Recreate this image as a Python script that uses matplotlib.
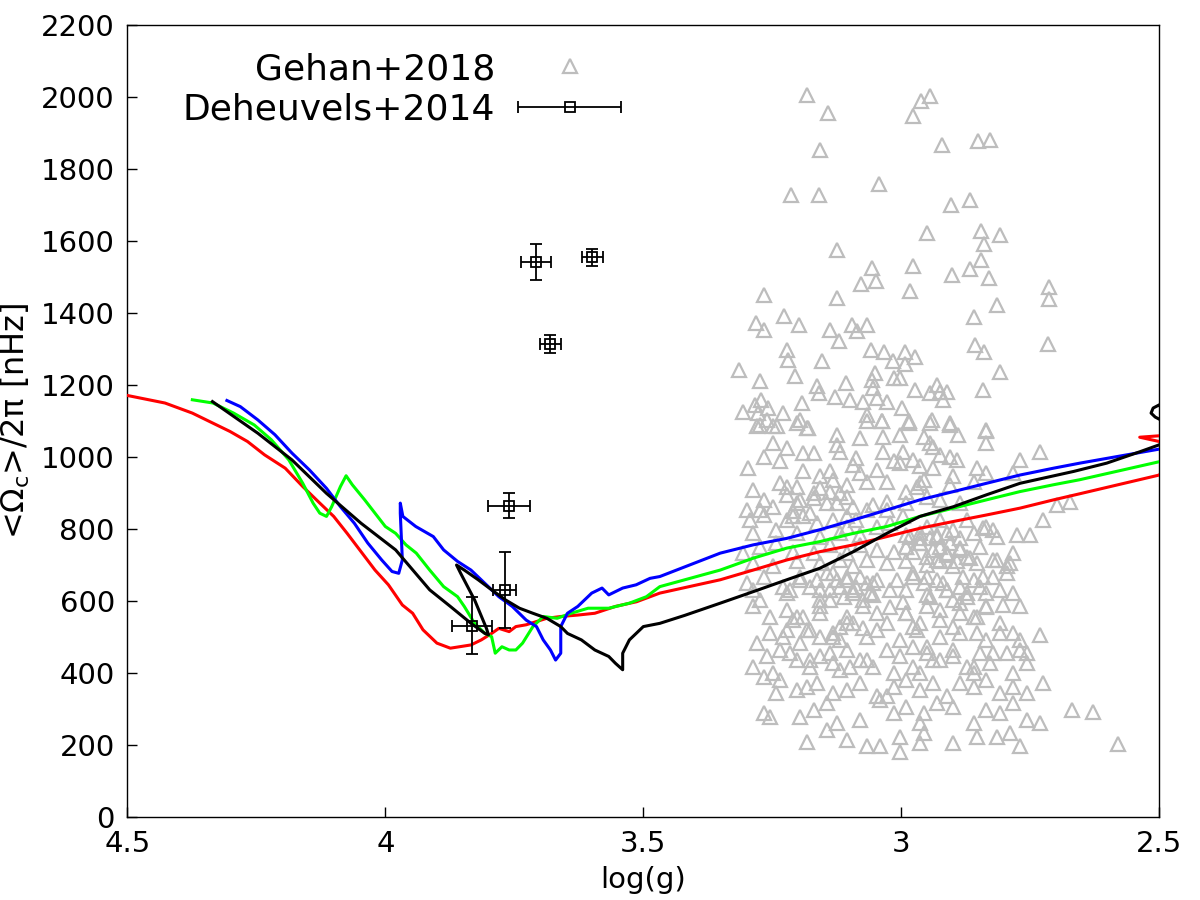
import numpy as np
import matplotlib
matplotlib.use("Agg")
import matplotlib.pyplot as plt
from matplotlib.legend_handler import HandlerErrorbar

# ---- model tracks: (log g, <Omega_c>/2pi [nHz]) ----
red_logg = [4.50, 4.427, 4.374, 4.334, 4.301, 4.267, 4.234, 4.194, 4.160, 4.127,
            4.100, 4.074, 4.047, 4.020, 3.994, 3.967, 3.947, 3.927, 3.900, 3.874,
            3.834, 3.814, 3.794, 3.780, 3.760, 3.747, 3.727, 3.687, 3.660, 3.627,
            3.594, 3.554, 3.513, 3.468, 3.351, 3.287, 3.222, 3.158, 3.093, 3.028,
            2.964, 2.899, 2.835, 2.770, 2.705, 2.654, 2.500, 2.470, 2.500, 2.538,
            2.500, 2.460]
red_om = [1171, 1150, 1122, 1094, 1071, 1043, 1006, 969, 918, 872,
          835, 788, 737, 686, 645, 589, 566, 520, 483, 469,
          478, 492, 510, 524, 515, 529, 534, 552, 557, 561,
          566, 585, 598, 622, 659, 686, 714, 737, 756, 779,
          802, 821, 839, 858, 881, 898, 950, 1010, 1043, 1055,
          1059, 1070]

green_logg = [4.374, 4.334, 4.294, 4.254, 4.221, 4.187, 4.160, 4.140, 4.127, 4.114,
              4.104, 4.087, 4.076, 4.064, 4.040, 4.020, 4.000, 3.980, 3.960, 3.940,
              3.914, 3.887, 3.860, 3.847, 3.827, 3.807, 3.794, 3.787, 3.774, 3.760,
              3.747, 3.734, 3.714, 3.694, 3.667, 3.640, 3.607, 3.567, 3.527, 3.494,
              3.468, 3.351, 3.287, 3.222, 3.158, 3.093, 3.028, 2.964, 2.899, 2.835,
              2.770, 2.705, 2.654, 2.500]
green_om = [1159, 1150, 1122, 1089, 1048, 992, 927, 872, 844, 835,
            862, 918, 948, 923, 881, 844, 807, 788, 756, 733,
            686, 640, 612, 585, 538, 510, 501, 455, 473, 464,
            464, 483, 529, 557, 552, 566, 580, 580, 594, 612,
            640, 686, 719, 747, 765, 788, 807, 835, 858, 881,
            904, 923, 937, 987]

blue_logg = [4.307, 4.281, 4.247, 4.214, 4.181, 4.147, 4.114, 4.087, 4.060, 4.034,
             4.007, 3.987, 3.974, 3.967, 3.971, 3.971, 3.966, 3.941, 3.907, 3.887,
             3.860, 3.834, 3.807, 3.780, 3.754, 3.727, 3.707, 3.694, 3.680, 3.670,
             3.660, 3.660, 3.647, 3.627, 3.600, 3.580, 3.567, 3.540, 3.514, 3.487,
             3.468, 3.351, 3.287, 3.222, 3.158, 3.093, 3.028, 2.964, 2.899, 2.835,
             2.770, 2.705, 2.654, 2.500]
blue_om = [1157, 1140, 1103, 1062, 1011, 964, 913, 862, 816, 761,
           714, 682, 677, 714, 844, 872, 835, 807, 779, 742,
           710, 686, 649, 612, 585, 547, 529, 492, 464, 436,
           455, 529, 566, 585, 622, 636, 617, 636, 645, 663,
           668, 733, 756, 774, 798, 825, 853, 881, 904, 927,
           950, 969, 983, 1022]

black_logg = [4.335, 4.247, 4.181, 4.114, 4.047, 3.980, 3.914, 3.874, 3.834, 3.807,
              3.800, 3.804, 3.827, 3.854, 3.862, 3.847, 3.820, 3.794, 3.767, 3.740,
              3.714, 3.687, 3.660, 3.647, 3.620, 3.594, 3.567, 3.554, 3.540, 3.540,
              3.527, 3.500, 3.468, 3.420, 3.351, 3.287, 3.222, 3.158, 3.093, 3.028,
              2.964, 2.931, 2.899, 2.835, 2.770, 2.666, 2.602, 2.537, 2.500, 2.470,
              2.500, 2.512, 2.516, 2.508, 2.500, 2.470]
black_om = [1154, 1066, 992, 899, 816, 742, 631, 585, 538, 510,
            506, 524, 603, 677, 700, 686, 659, 631, 603, 580,
            566, 552, 529, 510, 492, 464, 446, 427, 409, 455,
            492, 529, 538, 560, 594, 626, 659, 691, 737, 788,
            835, 849, 862, 895, 927, 960, 983, 1015, 1034, 1060,
            1145, 1136, 1122, 1111, 1105, 1095]

# ---- Deheuvels+2014 ----
deh_logg = [3.708, 3.599, 3.680, 3.760, 3.769, 3.832]
deh_om = [1542, 1555, 1313, 865, 631, 532]
deh_logg_err = [0.030, 0.020, 0.021, 0.041, 0.022, 0.039]
deh_om_err = [50, 24, 25, 35, 106, 78]

# ---- Gehan+2018 (log g, omega) by band ----
gehan_top = [(3.183, 2006), (3.143, 1955), (3.158, 1852), (3.213, 1727), (3.160, 1727),
             (3.044, 1759), (2.977, 1948), (2.962, 1988), (2.944, 2002), (2.922, 1868),
             (2.852, 1877), (2.828, 1881), (2.904, 1701), (2.867, 1715), (2.951, 1622),
             (2.846, 1627), (2.809, 1617), (2.840, 1592), (3.125, 1576), (3.056, 1525),
             (2.977, 1531), (2.846, 1548), (2.867, 1522), (2.831, 1497), (2.901, 1506),
             (3.079, 1481), (3.050, 1490), (2.983, 1460), (3.125, 1441), (3.267, 1451),
             (2.713, 1472), (2.713, 1439), (2.814, 1423), (2.860, 1389), (3.227, 1393),
             (3.282, 1372), (3.198, 1367), (3.267, 1352), (3.139, 1352), (3.120, 1321),
             (3.096, 1367), (3.086, 1349), (3.067, 1367), (2.715, 1314), (2.858, 1310),
             (2.840, 1293)]
gehan_upper = [(3.221, 1298), (3.219, 1270), (3.154, 1268), (3.059, 1298), (3.033, 1293),
               (2.992, 1293), (2.974, 1277), (3.017, 1268), (2.992, 1259), (3.314, 1242),
               (2.809, 1235), (3.273, 1210), (3.206, 1225), (3.108, 1205), (3.163, 1198),
               (3.160, 1177), (3.057, 1214), (3.051, 1233), (3.054, 1191), (3.015, 1219),
               (3.003, 1219), (2.974, 1187), (2.931, 1201), (2.925, 1182), (2.912, 1182),
               (2.841, 1187), (2.944, 1177), (2.919, 1159), (3.128, 1168), (3.099, 1159),
               (3.074, 1154), (3.048, 1164), (3.028, 1154), (2.999, 1136), (3.193, 1150),
               (3.271, 1159), (3.284, 1145), (3.306, 1126), (3.258, 1136), (3.277, 1122),
               (3.229, 1122), (3.261, 1103), (3.241, 1085), (3.280, 1085), (3.196, 1103),
               (3.180, 1080), (3.067, 1117), (3.038, 1101), (2.986, 1099), (2.941, 1103),
               (2.906, 1094), (2.835, 1075)]
gehan_1000 = [(3.274, 1089), (3.248, 1085), (3.203, 1094), (3.183, 1080), (3.067, 1099),
              (3.038, 1099), (2.986, 1094), (2.944, 1094), (2.906, 1089), (2.835, 1071),
              (3.125, 1062), (3.080, 1052), (3.035, 1057), (3.003, 1062), (2.957, 1057),
              (2.944, 1038), (2.890, 1062), (3.267, 1001), (3.248, 1038), (3.222, 1025),
              (3.190, 1011), (3.170, 1011), (3.125, 1034), (3.119, 1015), (3.087, 997),
              (3.035, 1015), (2.996, 1015), (2.977, 992), (2.938, 1029), (2.925, 1006),
              (2.906, 1001), (2.893, 992), (2.835, 1038), (2.770, 992), (2.731, 1015),
              (3.235, 988)]
gehan_900 = [(3.297, 969), (3.190, 960), (3.158, 946), (3.138, 960), (3.093, 978),
             (3.080, 955), (3.048, 964), (3.015, 988), (3.003, 983), (2.964, 974),
             (2.938, 969), (2.899, 946), (2.854, 969), (2.835, 955), (2.783, 955),
             (3.235, 927), (3.203, 918), (3.132, 937), (3.106, 923), (3.067, 932),
             (3.028, 932), (2.964, 927), (2.957, 937), (2.906, 923), (2.860, 932),
             (3.287, 909), (3.267, 881), (3.222, 895), (3.203, 872), (3.170, 886),
             (3.158, 913), (3.138, 904), (3.125, 872), (3.106, 890), (3.093, 862),
             (3.054, 867), (3.028, 876), (2.990, 904), (2.970, 918), (2.951, 890),
             (2.925, 881), (2.886, 872), (3.300, 853), (3.274, 853), (3.248, 862),
             (3.209, 849), (3.067, 853), (3.028, 853), (2.990, 872)]
gehan_800 = [(3.293, 825), (3.267, 839), (3.222, 825), (3.190, 835), (3.164, 816),
             (3.132, 825), (3.106, 807), (3.087, 825), (3.048, 807), (3.022, 816),
             (2.996, 835), (2.951, 807), (2.925, 825), (2.899, 798), (2.873, 825),
             (2.841, 802), (2.822, 798), (2.776, 784), (2.751, 784), (2.725, 825),
             (2.699, 867), (2.673, 876), (3.287, 788), (3.242, 798), (3.203, 788),
             (3.158, 779), (3.119, 788), (3.080, 784), (2.990, 784), (2.964, 774),
             (2.931, 779), (2.912, 788), (2.886, 774), (2.860, 788)]
gehan_700 = [(3.306, 733), (3.274, 751), (3.242, 761), (3.209, 737), (3.170, 733),
             (3.138, 756), (3.106, 733), (3.080, 756), (3.048, 742), (3.015, 737),
             (2.990, 751), (2.964, 761), (2.938, 742), (2.912, 733), (2.886, 747),
             (2.867, 719), (2.815, 714), (2.789, 705), (3.287, 705), (3.248, 696),
             (3.203, 710), (3.158, 705), (3.119, 714), (3.093, 696), (3.067, 714),
             (3.028, 705), (2.990, 710), (2.951, 700), (2.925, 710), (2.899, 696),
             (2.854, 705)]
gehan_600 = [(3.300, 649), (3.267, 668), (3.229, 640), (3.196, 668), (3.164, 659),
             (3.132, 677), (3.106, 659), (3.080, 668), (3.054, 649), (3.009, 659),
             (2.977, 677), (2.951, 668), (2.919, 649), (2.880, 668), (2.848, 640),
             (2.822, 668), (2.796, 677), (2.809, 631), (2.783, 622), (3.287, 631),
             (3.222, 622), (3.158, 631), (3.119, 640), (3.093, 631), (3.061, 622),
             (3.022, 631), (2.990, 631), (2.951, 617), (2.912, 631), (2.873, 622),
             (2.835, 622), (3.287, 585), (3.255, 557), (3.222, 575), (3.190, 557),
             (3.158, 585), (3.138, 603), (3.106, 557), (3.074, 585), (3.048, 566),
             (2.996, 598), (2.990, 566), (2.951, 585), (2.925, 575), (2.886, 594),
             (2.860, 557), (2.835, 585), (2.802, 589), (2.770, 585), (3.274, 603),
             (3.203, 557)]
gehan_500 = [(3.280, 483), (3.255, 510), (3.229, 501), (3.196, 483), (3.177, 520),
             (3.158, 501), (3.132, 510), (3.119, 492), (3.093, 538), (3.067, 501),
             (3.048, 520), (3.028, 538), (3.003, 492), (2.970, 520), (2.951, 473),
             (2.925, 501), (2.899, 529), (2.886, 510), (2.854, 510), (2.835, 492),
             (2.809, 510), (2.770, 492), (2.731, 506), (3.222, 520), (3.119, 529),
             (3.074, 524), (2.977, 529)]
gehan_400 = [(3.287, 418), (3.261, 446), (3.235, 464), (3.203, 436), (3.177, 418),
             (3.158, 446), (3.132, 427), (3.106, 464), (3.080, 436), (3.054, 418),
             (3.028, 464), (3.003, 446), (2.977, 418), (2.951, 455), (2.925, 436),
             (2.899, 446), (2.873, 418), (2.848, 455), (2.828, 427), (2.796, 455),
             (2.770, 464), (2.757, 427), (3.248, 399), (3.119, 409), (3.015, 399),
             (2.964, 399), (2.860, 399)]
gehan_300 = [(3.267, 390), (3.235, 381), (3.183, 362), (3.164, 372), (3.132, 344),
             (3.106, 353), (3.080, 372), (3.048, 335), (3.015, 362), (2.990, 381),
             (2.964, 353), (2.938, 372), (2.912, 335), (2.886, 372), (2.860, 362),
             (2.835, 381), (2.809, 344), (2.783, 362), (2.725, 372), (2.757, 344),
             (3.242, 344), (3.203, 353), (3.028, 335), (3.267, 288), (3.255, 279),
             (3.196, 279), (3.170, 297), (3.125, 260), (3.080, 270), (3.041, 325),
             (3.015, 288), (2.990, 307), (2.957, 288), (2.931, 316), (2.899, 307),
             (2.860, 260), (2.835, 297), (2.809, 288), (2.783, 316), (2.757, 270),
             (2.731, 260), (2.670, 297), (3.145, 316), (2.964, 260), (2.628, 292)]
gehan_200 = [(3.183, 209), (3.145, 242), (3.106, 214), (3.067, 196), (3.041, 196),
             (3.003, 223), (2.964, 205), (2.899, 205), (2.854, 223), (2.815, 223),
             (2.770, 196), (3.003, 182), (2.957, 233), (2.789, 233), (2.580, 203)]
# extra stars read from the crowded core
gehan_core_a = [(2.983, 779), (2.964, 760), (2.944, 774), (2.925, 751), (2.906, 760),
                (2.886, 742), (2.977, 737), (2.951, 723), (2.931, 714), (2.912, 728),
                (2.893, 710), (2.873, 723), (2.964, 788), (2.931, 784), (2.990, 751)]
gehan_core_b = [(3.145, 677), (3.125, 659), (3.106, 668), (3.087, 640), (3.067, 649),
                (3.048, 659), (3.138, 631), (3.112, 612), (3.093, 622), (3.074, 603),
                (3.054, 617), (3.158, 603), (3.196, 659), (3.216, 631), (3.177, 640)]
gehan_core_c = [(2.977, 668), (2.957, 649), (2.931, 659), (2.912, 631), (2.886, 640),
                (2.860, 659), (2.841, 668), (2.944, 612), (2.899, 603), (2.873, 612)]
gehan_core_d = [(3.222, 918), (3.196, 881), (3.170, 899), (3.209, 835), (3.177, 844),
                (3.145, 872), (3.119, 899), (3.106, 835), (2.835, 807), (2.815, 779),
                (2.848, 751), (2.822, 714), (2.796, 696), (2.783, 733)]
gehan_core_e = [(3.209, 547), (3.183, 520), (3.158, 566), (3.132, 501), (3.106, 538),
                (3.022, 584), (2.990, 566), (2.964, 538), (2.925, 547), (2.886, 566),
                (2.854, 557), (2.835, 584), (2.809, 538), (2.783, 510), (3.216, 455),
                (3.177, 436), (3.138, 455), (3.099, 418), (3.067, 436), (2.977, 473),
                (2.938, 436), (2.899, 464), (2.860, 418), (2.822, 455), (2.783, 399),
                (2.757, 455)]

gehan = np.array(gehan_top + gehan_upper + gehan_1000 + gehan_900 + gehan_800
                 + gehan_700 + gehan_600 + gehan_500 + gehan_400 + gehan_300
                 + gehan_200 + gehan_core_a + gehan_core_b + gehan_core_c
                 + gehan_core_d + gehan_core_e)

xticks = [4.5, 4.0, 3.5, 3.0, 2.5]
xtick_labels = ["4.5", "4", "3.5", "3", "2.5"]
yticks = list(range(0, 2201, 200))

fig = plt.figure(figsize=(12, 9), dpi=100)
ax = fig.add_axes([0.1061, 0.0922, 0.86, 0.88])

ax.plot(gehan[:, 0], gehan[:, 1], ls="none", marker="^", ms=10,
        mfc="none", mec="#bdbdbd", mew=1.6, zorder=1)

lw = 2.2
ax.plot(red_logg, red_om, color="#ff0000", lw=lw, zorder=3)
ax.plot(green_logg, green_om, color="#00ff00", lw=lw, zorder=3)
ax.plot(blue_logg, blue_om, color="#0000ff", lw=lw, zorder=3)
ax.plot(black_logg, black_om, color="black", lw=lw, zorder=4)

ax.errorbar(deh_logg, deh_om, xerr=deh_logg_err, yerr=deh_om_err, fmt="s",
            ms=6.5, mfc="none", mec="black", mew=1.3, ecolor="black",
            elinewidth=1.3, capsize=4, capthick=1.3, zorder=5)

# legend proxies
h_gehan, = ax.plot([np.nan], [np.nan], ls="none", marker="^", ms=10,
                   mfc="none", mec="#bdbdbd", mew=1.6)
h_deh = ax.errorbar([np.nan], [np.nan], xerr=[0.1], fmt="s", ms=6.5,
                    mfc="none", mec="black", mew=1.3, ecolor="black",
                    elinewidth=1.3, capsize=4, capthick=1.3)
ax.legend([h_gehan, h_deh], ["Gehan+2018", "Deheuvels+2014"],
          loc="upper right", bbox_to_anchor=(0.4924, 0.984), frameon=False,
          markerfirst=False, fontsize=26, handlelength=2.85,
          handletextpad=0.64, labelspacing=0.18, borderaxespad=0,
          handler_map={type(h_deh): HandlerErrorbar(xerr_size=1.43)})

ax.set_xlim(4.5, 2.5)
ax.set_ylim(0, 2200)
ax.set_xticks(xticks)
ax.set_xticklabels(xtick_labels)
ax.set_yticks(yticks)
ax.tick_params(direction="in", length=7, width=1, labelsize=21, pad=9)
for s in ax.spines.values():
    s.set_linewidth(1.0)

ax.set_xlabel("log(g)", fontsize=21, labelpad=6)
ax.set_ylabel("<Ω$_{\\mathrm{c}}$>/2π [nHz]", fontsize=23, labelpad=6)

fig.savefig("out.png", dpi=100)
